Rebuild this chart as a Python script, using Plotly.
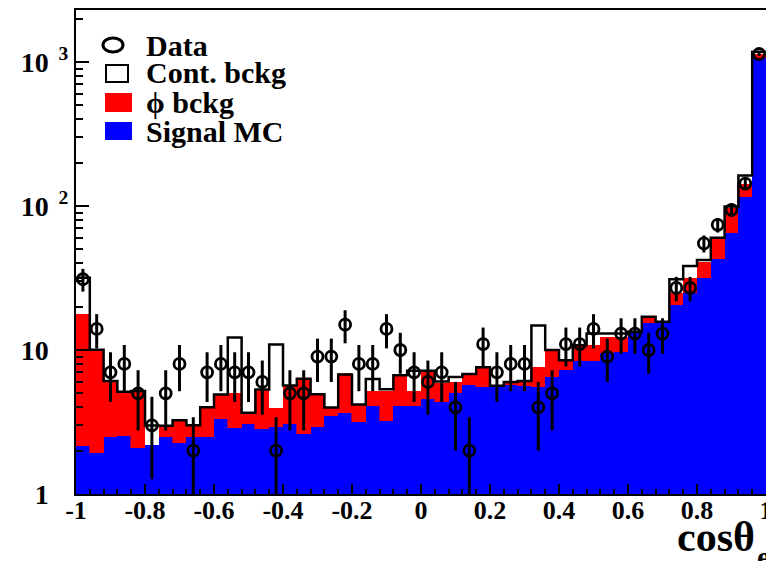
import numpy as np
import plotly.graph_objects as go

# ---------------- data ----------------
x_min, x_max, n_bins = -1.0, 1.0, 50

signal = [2.15, 1.94, 2.48, 2.52, 2.1, 2.19, 2.48, 2.25, 2.5, 2.5,
          3.3, 2.89, 3.06, 2.81, 2.93, 3.06, 2.61, 2.93, 3.48, 3.67,
          3.18, 4.08, 3.23, 4.08, 4.08, 4.57, 4.35, 5.0, 5.71, 5.5,
          5.55, 5.7, 5.6, 5.5, 6.5, 7.3, 8.4, 8.4, 9.5, 9.7,
          13.4, 15.3, 15.7, 20.5, 25.0, 31.4, 42.6, 65.0, 116.0, 1060.0]

phi_bckg = [15.5, 8.1, 3.6, 2.6, 3.1, 0.0, 0.5, 1.0, 0.5, 1.5,
            1.6, 2.1, 0.6, 2.5, 1.0, 2.6, 3.7, 2.0, 0.5, 3.1,
            1.0, 1.1, 2.0, 2.6, 1.1, 2.6, 1.6, 1.0, 1.0, 2.1,
            0.1, 0.3, 0.5, 2.1, 3.5, 1.2, 2.4, 2.4, 2.9, 2.7,
            0.0, 1.7, 0.0, 4.3, 6.4, 9.6, 17.1, 33.0, 26.0, 76.0]

cont_bckg = [14.1, 0.0, 0.0, 0.0, 0.0, 0.8, 0.0, 0.0, 0.0, 0.0,
             0.0, 7.2, 0.0, 0.0, 7.0, 0.0, 0.0, 0.0, 0.0, 0.0,
             0.0, 1.1, 0.1, 0.0, 2.0, 0.0, 0.1, 0.5, 0.1, 0.0,
             0.0, 0.0, 0.0, 7.2, 0.0, 0.0, 0.0, 2.2, 0.6, 0.6,
             0.0, 0.0, 0.0, 6.2, 6.9, 1.2, 0.5, 1.0, 21.0, 44.0]

data_counts = [31, 14, 7, 8, 5, 3, 5, 8, 2, 7,
               8, 7, 7, 6, 2, 5, 5, 9, 9, 15,
               8, 8, 14, 10, 7, 6, 7, 4, 2, 11,
               7, 8, 8, 4, 5, 11, 11, 14, 9, 13,
               13, 10, 13, 27, 27, 55, 74, 94, 143, 1136]

x_tick_vals = [-1, -0.8, -0.6, -0.4, -0.2, 0, 0.2, 0.4, 0.6, 0.8, 1]
x_tick_text = ["-1", "-0.8", "-0.6", "-0.4", "-0.2", "0", "0.2", "0.4", "0.6", "0.8", "1"]
y_tick_vals = [1, 10, 100, 1000]
ghost = "<span style='color:rgba(0,0,0,0)'><sup>&nbsp;&nbsp;2</sup></span>"
y_tick_text = ["1" + ghost, "10" + ghost, "10<sup>&nbsp;&nbsp;2</sup>", "10<sup>&nbsp;&nbsp;3</sup>"]

legend_labels = ["Data", "Cont. bckg", "ϕ bckg", "Signal MC"]
x_title_main, x_title_sub = "cosθ", "ee"

# ---------------- derived ----------------
edges = np.linspace(x_min, x_max, n_bins + 1)
centers = 0.5 * (edges[:-1] + edges[1:])
bw = edges[1] - edges[0]
sig = np.array(signal)
phi = np.array(phi_bckg)
cont = np.array(cont_bckg)
total = sig + phi + cont
dat = np.array(data_counts, dtype=float)
err = np.sqrt(dat)

BLUE = "#0000ff"
RED = "#ff0000"
FONT = "Liberation Serif"

fig = go.Figure()
fig.add_trace(go.Bar(x=centers, y=sig, width=bw, marker=dict(color=BLUE, line=dict(width=0.6, color=BLUE)),
                     showlegend=False, name="Signal MC"))
fig.add_trace(go.Bar(x=centers, y=phi, width=bw, marker=dict(color=RED, line=dict(width=0.6, color=RED)),
                     showlegend=False, name="phi bckg"))
fig.add_trace(go.Bar(x=centers, y=cont, width=bw, marker=dict(color="white", line=dict(width=0)),
                     showlegend=False, name="Cont. bckg"))
# outline of the total stack
fig.add_trace(go.Scatter(x=list(edges), y=list(total) + [total[-1]], mode="lines",
                         line=dict(shape="hv", color="black", width=2.5), showlegend=False,
                         hoverinfo="skip"))
# data points
fig.add_trace(go.Scatter(x=centers, y=dat, mode="markers",
                         marker=dict(symbol="circle-open", size=11, color="black", line=dict(width=2.8, color="black")),
                         error_y=dict(type="data", array=err, visible=True, width=0, thickness=3, color="black"),
                         showlegend=False, name="Data"))

# ---------------- layout (page has an 8px body offset) ----------------
OFF = 8
W, H = 774 - OFF, 561 - OFF
L, R, T, B = 76 - OFF, 8, 10 - OFF, 67
pw, ph = W - L - R, H - T - B


def px(xs):  # screen px -> paper
    return (xs - OFF - L) / pw


def py(ys):
    return (H - B - (ys - OFF)) / ph


shapes = [
    dict(type="circle", xref="paper", yref="paper", x0=px(103), x1=px(123), y0=py(52), y1=py(38),
         line=dict(color="black", width=3), fillcolor="white"),
    dict(type="rect", xref="paper", yref="paper", x0=px(106), x1=px(128), y0=py(82), y1=py(65),
         line=dict(color="black", width=2), fillcolor="white"),
    dict(type="rect", xref="paper", yref="paper", x0=px(105), x1=px(132), y0=py(112), y1=py(93),
         line=dict(color=RED, width=0), fillcolor=RED),
    dict(type="rect", xref="paper", yref="paper", x0=px(105), x1=px(132), y0=py(140), y1=py(122),
         line=dict(color=BLUE, width=0), fillcolor=BLUE),
]
annotations = []
for lab, yc in zip(legend_labels, [45, 73, 103, 131]):
    annotations.append(dict(text=lab, xref="paper", yref="paper", x=px(144), y=py(yc),
                            xanchor="left", yanchor="middle", showarrow=False,
                            font=dict(family=FONT, size=30, color="black", weight="bold")))
annotations.append(dict(text=x_title_main, xref="paper", yref="paper", x=px(757), y=py(512),
                        xanchor="right", yanchor="top", showarrow=False,
                        font=dict(family=FONT, size=42, color="black", weight="bold")))
annotations.append(dict(text=x_title_sub, xref="paper", yref="paper", x=px(755), y=py(538),
                        xanchor="left", yanchor="top", showarrow=False,
                        font=dict(family=FONT, size=30, color="black", weight="bold")))

fig.update_layout(
    width=W, height=H, margin=dict(l=L, r=R, t=T, b=B, autoexpand=False),
    barmode="stack", bargap=0,
    plot_bgcolor="white", paper_bgcolor="white",
    showlegend=False, shapes=shapes, annotations=annotations,
    xaxis=dict(range=[x_min, x_max], tickvals=x_tick_vals, ticktext=x_tick_text,
               ticks="inside", ticklen=10, tickwidth=2, tickcolor="black",
               minor=dict(ticks="inside", ticklen=5, tickwidth=2, tickcolor="black", dtick=0.04, tick0=-1),
               showline=True, mirror=True, linecolor="black", linewidth=2,
               showgrid=False, zeroline=False, automargin=False,
               ticklabelstandoff=-8, ticklabeloverflow="allow",
               tickfont=dict(family=FONT, size=26, color="black", weight="bold")),
    yaxis=dict(type="log", range=[0, 3.361], tickvals=y_tick_vals, ticktext=y_tick_text,
               ticks="inside", ticklen=13, tickwidth=2, tickcolor="black",
               minor=dict(ticks="inside", ticklen=7, tickwidth=2, tickcolor="black",
                          tickvals=[m * d for d in [1, 10, 100] for m in range(2, 10)] + [2000]),
               showline=True, mirror=True, linecolor="black", linewidth=2,
               showgrid=False, zeroline=False, automargin=False,
               ticklabeloverflow="allow",
               tickfont=dict(family=FONT, size=28, color="black", weight="bold")),
)

fig.write_html("out.html")
